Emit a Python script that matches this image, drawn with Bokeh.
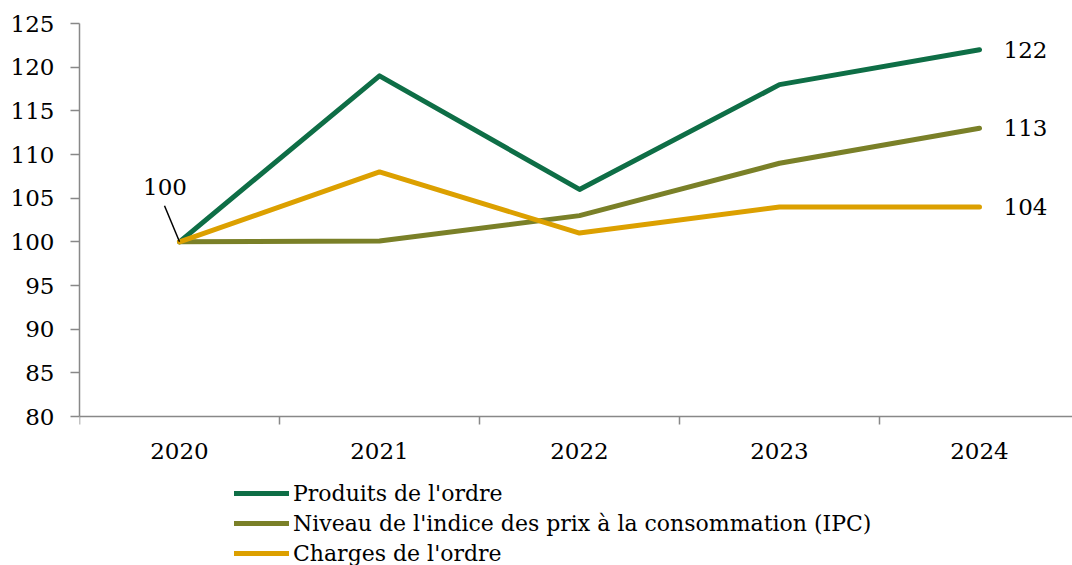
from bokeh.plotting import figure
from bokeh.models import (ColumnDataSource, FixedTicker, Range1d, Legend, LegendItem,
                          CustomJSTickFormatter)
from bokeh.core.properties import value
from bokeh.embed import file_html
from bokeh.resources import INLINE

years = ["2020", "2021", "2022", "2023", "2024"]
produits = [100, 119, 106, 118, 122]
ipc = [100, 100.1, 103, 109, 113]
charges = [100, 108, 101, 104, 104]
names = ["Produits de l'ordre",
         "Niveau de l'indice des prix à la consommation (IPC)",
         "Charges de l'ordre"]
colors = ["#0e6e46", "#7a8028", "#dca000"]
y_ticks = [80, 85, 90, 95, 100, 105, 110, 115, 120, 125]
y_min, y_max = 80, 125

FONT = "DejaVu Serif"
FS = "23px"
LFS = "22px"

W, H = 1072, 565
TOP, AXIS_Y, LEFT = 23, 416, 79
px_per_unit = (AXIS_Y - TOP) / float(y_max - y_min)
y_start = y_min - (H - AXIS_Y) / px_per_unit   # extra room below the axis for the legend
xs = list(range(len(years)))

p = figure(width=W, height=H, output_backend="svg", toolbar_location=None,
           x_range=Range1d(-0.5, -0.5 + (W - LEFT) / 200.0),
           y_range=Range1d(y_start, y_max),
           min_border_left=LEFT, min_border_right=0, min_border_top=TOP,
           min_border_bottom=0)
p.outline_line_color = None
p.xgrid.visible = False
p.ygrid.visible = False
p.background_fill_color = "white"

renderers = []
for vals, c in zip([produits, ipc, charges], colors):
    src = ColumnDataSource(dict(x=xs, y=vals))
    r = p.line("x", "y", source=src, line_color=c, line_width=5, line_cap="round",
               line_join="round")
    renderers.append(r)

# end labels
last = [produits[-1], ipc[-1], charges[-1]]
p.text(x=[xs[-1]] * 3, y=last, text=[str(round(v)) for v in last], x_offset=24,
       text_baseline="middle", text_align="left", text_font=value(FONT),
       text_font_size=FS, text_color="black")

# start label with leader line
p.segment(x0=[xs[0]], y0=[produits[0]], x1=[xs[0] - 15 / 200.0],
          y1=[produits[0] + 36 / px_per_unit], line_color="black", line_width=1.5)
p.text(x=[xs[0]], y=[produits[0]], text=[str(produits[0])], x_offset=-14.5, y_offset=-55,
       text_baseline="middle", text_align="center", text_font=value(FONT),
       text_font_size=FS, text_color="black")

# axes
p.yaxis.ticker = FixedTicker(ticks=y_ticks)
p.yaxis.bounds = (y_min, y_max)
p.yaxis.axis_line_color = "#888888"
p.yaxis.axis_line_width = 1.5
p.yaxis.major_tick_line_color = "#888888"
p.yaxis.major_tick_line_width = 1.5
p.yaxis.major_tick_out = 9
p.yaxis.major_tick_in = 0
p.yaxis.minor_tick_line_color = None
p.yaxis.major_label_standoff = 16
p.yaxis.major_label_text_font = FONT
p.yaxis.major_label_text_font_size = FS
p.yaxis.major_label_text_color = "black"

p.xaxis.fixed_location = y_min
p.xaxis.ticker = FixedTicker(ticks=xs, minor_ticks=[i - 0.5 for i in range(len(years) + 1)])
p.xaxis.formatter = CustomJSTickFormatter(args=dict(labels=years),
                                          code="return labels[Math.round(tick)];")
p.xaxis.axis_line_color = "#888888"
p.xaxis.axis_line_width = 1.5
p.xaxis.major_tick_line_color = None
p.xaxis.major_tick_out = 0
p.xaxis.minor_tick_line_color = "#888888"
p.xaxis.minor_tick_line_width = 1.5
p.xaxis.minor_tick_out = 8
p.xaxis.minor_tick_in = 0
p.xaxis.major_label_standoff = 18
p.xaxis.major_label_text_font = FONT
p.xaxis.major_label_text_font_size = FS
p.xaxis.major_label_text_color = "black"

legend = Legend(items=[LegendItem(label=n, renderers=[r]) for n, r in zip(names, renderers)],
                location=(155, -3), orientation="vertical",
                label_text_font=FONT, label_text_font_size=LFS, label_text_color="black",
                glyph_width=55, glyph_height=30, label_height=30, spacing=0,
                label_standoff=4, padding=0, margin=0,
                border_line_color=None, background_fill_alpha=0)
p.add_layout(legend, "center")

open("out.html", "w").write(file_html(p, INLINE))
